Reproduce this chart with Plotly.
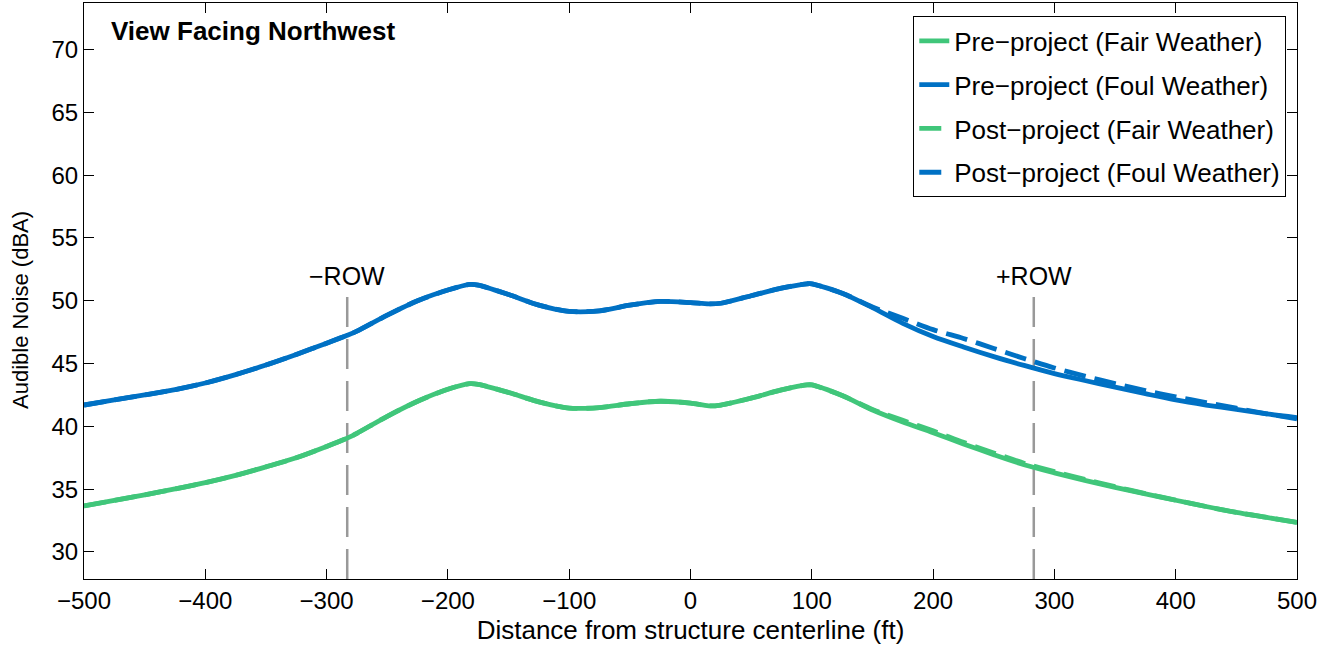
import plotly.graph_objects as go

distance_ft = [-500, -475, -450, -425, -400, -375, -350, -325, -300, -283, -275, -250, -225, -200,
               -182, -175, -150, -125, -100, -75, -50, -25, 0, 15, 25, 50, 75, 96, 100, 125, 150,
               175, 200, 225, 250, 275, 300, 325, 350, 375, 400, 425, 450, 475, 500]

pre_fair = [33.67, 34.1, 34.55, 35.02, 35.52, 36.1, 36.78, 37.5, 38.4, 39.06, 39.45, 40.8, 42.0, 42.95,
            43.4, 43.35, 42.7, 41.95, 41.45, 41.5, 41.8, 42.0, 41.85, 41.63, 41.7, 42.25, 42.9, 43.3, 43.3, 42.45, 41.3,
            40.35, 39.5, 38.6, 37.75, 36.95, 36.3, 35.7, 35.15, 34.62, 34.12, 33.62, 33.15, 32.75, 32.35]

post_fair = [33.67, 34.1, 34.55, 35.02, 35.52, 36.1, 36.78, 37.5, 38.4, 39.06, 39.45, 40.8, 42.0, 42.95,
             43.4, 43.35, 42.7, 41.95, 41.45, 41.5, 41.8, 42.0, 41.85, 41.63, 41.7, 42.25, 42.9, 43.3, 43.3, 42.45, 41.35,
             40.48, 39.64, 38.73, 37.88, 37.07, 36.4, 35.78, 35.2, 34.65, 34.13, 33.62, 33.15, 32.75, 32.35]

pre_foul = [41.7, 42.1, 42.5, 42.92, 43.45, 44.12, 44.88, 45.72, 46.62, 47.25, 47.58, 48.85, 50.0, 50.85,
            51.3, 51.25, 50.5, 49.65, 49.15, 49.2, 49.65, 49.95, 49.85, 49.75, 49.8, 50.4, 51.0, 51.35, 51.35, 50.6, 49.45,
            48.2, 47.15, 46.32, 45.55, 44.85, 44.2, 43.65, 43.12, 42.6, 42.1, 41.7, 41.35, 41.0, 40.7]

post_foul = [41.7, 42.1, 42.5, 42.92, 43.45, 44.12, 44.88, 45.72, 46.62, 47.25, 47.58, 48.85, 50.0, 50.85,
             51.3, 51.25, 50.5, 49.65, 49.15, 49.2, 49.65, 49.95, 49.85, 49.75, 49.8, 50.4, 51.0, 51.35, 51.35, 50.6, 49.5,
             48.6, 47.7, 47.0, 46.2, 45.4, 44.65, 44.0, 43.4, 42.85, 42.35, 41.9, 41.45, 41.0, 40.6]

row_positions = [-283, 283]
row_labels = ["\u2212ROW", "+ROW"]
row_label_level = 52.0
row_line_top = 50.6

x_ticks = [-500, -400, -300, -200, -100, 0, 100, 200, 300, 400, 500]
y_ticks = [30, 35, 40, 45, 50, 55, 60, 65, 70]
y_range = [27.85, 73.7]

GREEN = "#40C67A"
BLUE = "#0071C4"
FONT = "Liberation Sans, Arial, sans-serif"

series = [
    ("Pre\u2212project (Fair Weather)", pre_fair, GREEN, "solid"),
    ("Pre\u2212project (Foul Weather)", pre_foul, BLUE, "solid"),
    ("Post\u2212project (Fair Weather)", post_fair, GREEN, "22px,9px"),
    ("Post\u2212project (Foul Weather)", post_foul, BLUE, "22px,9px"),
]

fig = go.Figure()
for i, (name, vals, color, dash) in enumerate(series):
    fig.add_trace(go.Scatter(
        x=distance_ft, y=vals, mode="lines", name=name, legendgroup=f"g{i}",
        line=dict(color=color, width=4.8, dash=dash, shape="spline", smoothing=0.8),
    ))

for xp, lab in zip(row_positions, row_labels):
    fig.add_shape(type="line", xref="x", yref="y", x0=xp, x1=xp, y0=y_range[0], y1=row_line_top,
                  line=dict(color="#999999", width=2.5, dash="30px,12px"), layer="below")
    fig.add_annotation(x=xp, y=row_label_level, xref="x", yref="y", text=lab, showarrow=False,
                       font=dict(size=25, color="black", family=FONT), xanchor="center", yanchor="middle")

fig.add_annotation(x=0.021, y=0.951, xref="paper", yref="paper", text="<b>View Facing Northwest</b>",
                   showarrow=False, xanchor="left", yanchor="middle",
                   font=dict(size=26, color="black", family=FONT))

# y-axis title placed as a rotated annotation (slightly below axis centre, as in the original)
fig.add_annotation(x=0, y=0.467, xref="paper", yref="paper", text="Audible Noise (dBA)",
                   textangle=-90, showarrow=False, xanchor="center", yanchor="middle", xshift=-64,
                   font=dict(size=22, color="black", family=FONT))

axis_common = dict(showline=True, linecolor="black", linewidth=1.2, mirror="ticks", ticks="inside",
                   ticklen=10, tickwidth=1.2, tickcolor="black", showgrid=False, zeroline=False,
                   tickfont=dict(size=24, color="black", family=FONT))

fig.update_xaxes(range=[-500, 500], tickvals=x_ticks,
                 title=dict(text="Distance from structure centerline (ft)",
                            font=dict(size=26, color="black", family=FONT), standoff=7),
                 **axis_common)
fig.update_yaxes(range=y_range, tickvals=y_ticks, **axis_common)

fig.update_layout(
    width=1333, height=650,
    margin=dict(l=84, r=36, t=3, b=71),
    plot_bgcolor="white", paper_bgcolor="white",
    font=dict(family=FONT, color="black"),
    legend=dict(x=0.991, y=0.977, xanchor="right", yanchor="top", bgcolor="white",
                bordercolor="black", borderwidth=1.2, tracegroupgap=7,
                font=dict(size=26, color="black", family=FONT)),
)

fig.write_html("out.html")
